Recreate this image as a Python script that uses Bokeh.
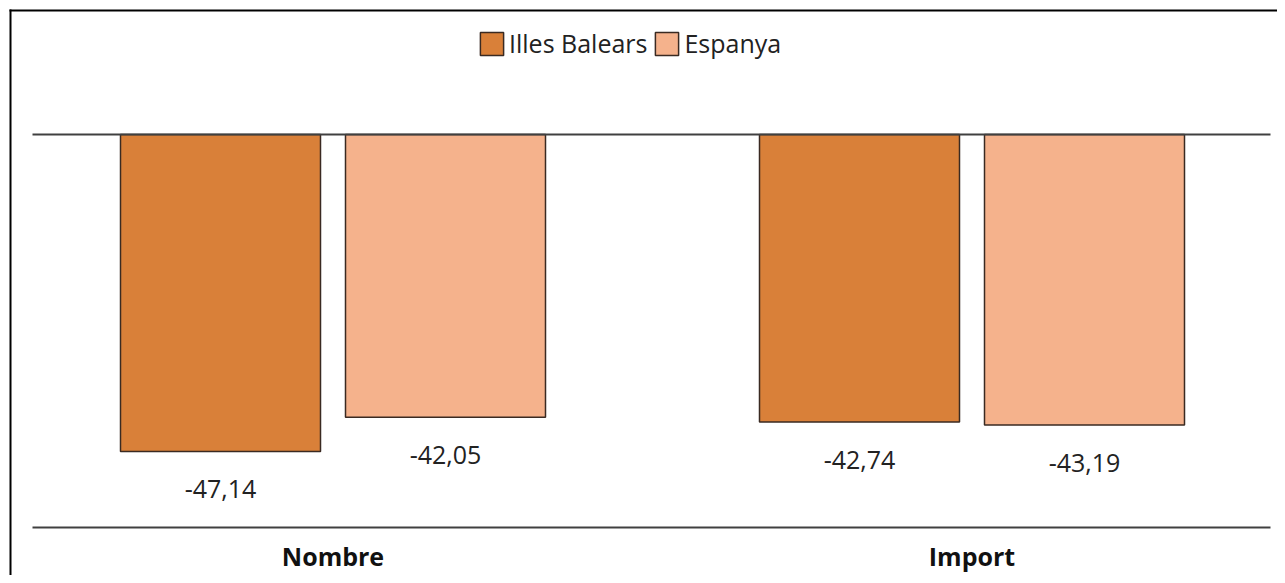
from bokeh.plotting import figure
from bokeh.models import Range1d, ColumnDataSource, LinearAxis, FixedTicker
from bokeh.transform import dodge
from bokeh.core.properties import value
from bokeh.embed import file_html
from bokeh.resources import INLINE

categories = ["Nombre", "Import"]
series = ["Illes Balears", "Espanya"]
illes_balears = [-47.14, -42.74]
espanya = [-42.05, -43.19]
colors = ["#D98039", "#F5B28C"]


def fmt(v):
    return f"{v:.2f}".replace(".", ",")


src = ColumnDataSource(dict(
    xi=list(range(len(categories))),
    ib=illes_balears,
    es=espanya,
    ib_lbl=[fmt(v) for v in illes_balears],
    es_lbl=[fmt(v) for v in espanya],
))

FONT = "Open Sans"
W, H = 1277, 575

# layout (pixels): category spacing and vertical scale
UX = 639.0            # px per category step
X0_PX = 332.5         # px position of first category centre
UY = 6.7246           # px per unit value
Y0_PX = 134.0         # px position of zero line
xs = -X0_PX / UX
xe = xs + W / UX
ye = Y0_PX / UY
ys = ye - H / UY


def px2x(px):
    return xs + px / UX


def py2y(py):
    return ye - py / UY


p = figure(
    width=W, height=H,
    x_range=Range1d(xs, xe), y_range=Range1d(ys, ye),
    output_backend="svg", toolbar_location=None,
    x_axis_location=None, y_axis_location=None,
    min_border=0, min_border_left=0, min_border_right=0,
    min_border_top=0, min_border_bottom=0,
)
p.outline_line_color = None
p.xgrid.visible = False
p.ygrid.visible = False
p.background_fill_color = "white"
p.border_fill_color = "white"

# chart border (top and left)
p.segment(x0=[px2x(9)], x1=[xe], y0=[py2y(10)], y1=[py2y(10)], line_color="#000000", line_width=2)
p.segment(x0=[px2x(10)], x1=[px2x(10)], y0=[py2y(9)], y1=[ys], line_color="#000000", line_width=2)

off = 112.5 / UX
bw = 200.0 / UX

p.vbar(x=dodge("xi", -off), top="ib", bottom=0, width=bw, source=src,
       fill_color=colors[0], line_color="#3a2a22", line_width=1.5, legend_label=series[0])
p.vbar(x=dodge("xi", off), top="es", bottom=0, width=bw, source=src,
       fill_color=colors[1], line_color="#3a2a22", line_width=1.5, legend_label=series[1])

# zero line
p.segment(x0=[px2x(32)], x1=[px2x(1270)], y0=[0], y1=[0], line_color="#404040", line_width=2)

p.text(x=dodge("xi", -off), y="ib", text="ib_lbl", source=src,
       y_offset=38, text_align="center", text_baseline="middle",
       text_font=value(FONT), text_font_size="25px", text_color="#222222")
p.text(x=dodge("xi", off), y="es", text="es_lbl", source=src,
       y_offset=38, text_align="center", text_baseline="middle",
       text_font=value(FONT), text_font_size="25px", text_color="#222222")

ax = LinearAxis(
    ticker=FixedTicker(ticks=list(range(len(categories)))),
    major_label_overrides={i: c for i, c in enumerate(categories)},
    fixed_location=py2y(527),
    bounds=(px2x(32), px2x(1270)),
)
ax.axis_line_color = "#404040"
ax.axis_line_width = 2
ax.major_tick_line_color = None
ax.minor_tick_line_color = None
ax.major_label_standoff = 5
ax.major_label_text_font = FONT
ax.major_label_text_font_style = "bold"
ax.major_label_text_font_size = "25px"
ax.major_label_text_color = "#111111"
p.add_layout(ax, "below")

lg = p.legend[0]
lg.orientation = "horizontal"
lg.location = (477, 515)
lg.padding = 0
lg.margin = 0
lg.spacing = 5
lg.label_standoff = 3
lg.glyph_width = 29
lg.glyph_height = 29
lg.label_text_font = FONT
lg.label_text_font_size = "25px"
lg.label_text_color = "#222222"
lg.background_fill_alpha = 0
lg.border_line_alpha = 0

open("out.html", "w").write(file_html(p, INLINE))
